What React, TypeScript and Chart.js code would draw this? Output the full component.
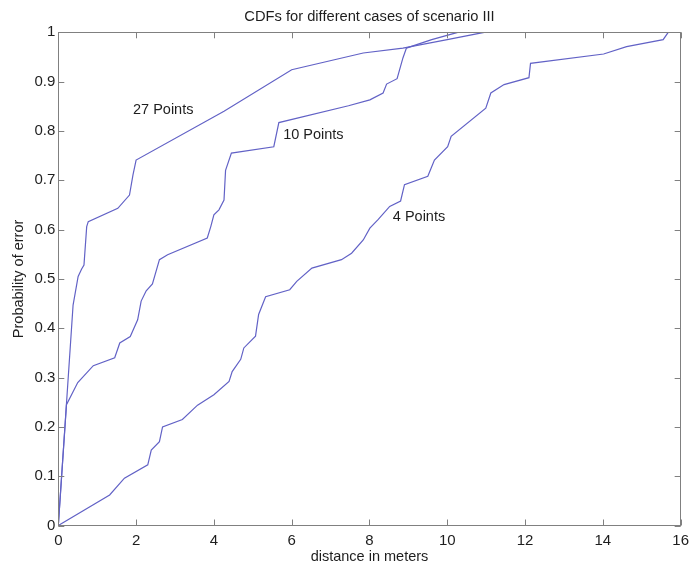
import React, { useEffect, useRef } from "react";
import { Chart, registerables } from "chart.js";

Chart.register(...registerables);

// ---- data ----
const TITLE = "CDFs for different cases of scenario III";
const X_LABEL = "distance in meters";
const Y_LABEL = "Probability of error";

const xTicks = [0, 2, 4, 6, 8, 10, 12, 14, 16];
const yTicks = [0, 0.1, 0.2, 0.3, 0.4, 0.5, 0.6, 0.7, 0.8, 0.9, 1];

const pts27X = [0, 0.38, 0.51, 0.6, 0.66, 0.73, 0.77, 1.53, 1.83, 1.92, 2.0, 4.26, 6.0, 7.84, 8.86, 10.0, 10.95];
const pts27Y = [0, 0.447, 0.505, 0.52, 0.528, 0.606, 0.616, 0.643, 0.67, 0.711, 0.741, 0.84, 0.924, 0.958, 0.968, 0.985, 1.0];

const pts10X = [0, 0.21, 0.5, 0.9, 1.45, 1.58, 1.85, 2.04, 2.13, 2.26, 2.42, 2.6, 2.81, 3.83, 3.92, 4.0, 4.13, 4.26, 4.3, 4.45, 5.54, 5.67, 7.46, 8.01, 8.35, 8.44, 8.71, 8.86, 8.95, 9.6, 10.27];
const pts10Y = [0, 0.245, 0.29, 0.324, 0.34, 0.37, 0.383, 0.417, 0.455, 0.476, 0.49, 0.539, 0.549, 0.583, 0.606, 0.63, 0.64, 0.66, 0.72, 0.755, 0.768, 0.817, 0.851, 0.863, 0.877, 0.895, 0.906, 0.948, 0.968, 0.985, 1.0];

const pts4X = [0, 1.32, 1.7, 2.3, 2.39, 2.6, 2.68, 3.19, 3.58, 4.0, 4.39, 4.47, 4.69, 4.77, 5.07, 5.15, 5.33, 5.95, 6.13, 6.52, 7.28, 7.54, 7.84, 8.01, 8.22, 8.52, 8.8, 8.9, 9.5, 9.67, 10.01, 10.1, 10.99, 11.12, 11.46, 12.1, 12.14, 14.02, 14.61, 15.55, 15.68];
const pts4Y = [0, 0.062, 0.096, 0.123, 0.153, 0.17, 0.2, 0.215, 0.244, 0.265, 0.292, 0.312, 0.337, 0.36, 0.384, 0.428, 0.464, 0.478, 0.495, 0.522, 0.539, 0.552, 0.579, 0.603, 0.62, 0.647, 0.658, 0.691, 0.708, 0.741, 0.768, 0.789, 0.846, 0.877, 0.894, 0.908, 0.937, 0.956, 0.971, 0.985, 1.0];

const labelTexts = ["27 Points", "10 Points", "4 Points"];
const labelX = [1.92, 5.78, 8.6];
const labelY = [0.843, 0.792, 0.626];

// ---- styles ----
const FONT = '"Liberation Sans", Arial, Helvetica, sans-serif';
const LINE_COLOR = "#6262c6";
const TEXT_COLOR = "#1e1e1e";
const AXIS_COLOR = "#808080";

const zip = (xs: number[], ys: number[]) => xs.map((x, i) => ({ x, y: ys[i] }));

const boxPlugin = {
  id: "matlabBox",
  afterDraw(chart: any) {
    const { ctx, chartArea } = chart;
    const xs = chart.scales.x;
    const ys = chart.scales.y;
    const { left, right, top, bottom } = chartArea;
    const tl = 6;
    ctx.save();
    ctx.strokeStyle = AXIS_COLOR;
    ctx.lineWidth = 1;
    ctx.beginPath();
    xTicks.forEach((v) => {
      const px = Math.round(xs.getPixelForValue(v)) + 0.5;
      ctx.moveTo(px, bottom);
      ctx.lineTo(px, bottom - tl);
      ctx.moveTo(px, top);
      ctx.lineTo(px, top + tl);
    });
    yTicks.forEach((v) => {
      const py = Math.round(ys.getPixelForValue(v)) + 0.5;
      ctx.moveTo(left, py);
      ctx.lineTo(left + tl, py);
      ctx.moveTo(right, py);
      ctx.lineTo(right - tl, py);
    });
    ctx.stroke();
    ctx.strokeRect(Math.round(left) + 0.5, Math.round(top) + 0.5, Math.round(right - left), Math.round(bottom - top));
    ctx.restore();
  },
  afterDatasetsDraw(chart: any) {
    const { ctx } = chart;
    const xs = chart.scales.x;
    const ys = chart.scales.y;
    ctx.save();
    ctx.fillStyle = TEXT_COLOR;
    ctx.font = `14.5px ${FONT}`;
    ctx.textAlign = "left";
    ctx.textBaseline = "middle";
    labelTexts.forEach((t, i) => {
      ctx.fillText(t, xs.getPixelForValue(labelX[i]), ys.getPixelForValue(labelY[i]));
    });
    ctx.restore();
  },
};

export default function App() {
  const ref = useRef<HTMLCanvasElement | null>(null);

  useEffect(() => {
    document.body.style.margin = "0";
    const canvas = ref.current;
    if (!canvas) return;
    const mk = (label: string, xs: number[], ys: number[]) => ({
      label,
      data: zip(xs, ys),
      showLine: true,
      borderColor: LINE_COLOR,
      backgroundColor: LINE_COLOR,
      borderWidth: 1.2,
      pointRadius: 0,
      tension: 0,
      fill: false,
    });
    const chart = new Chart(canvas, {
      type: "scatter",
      data: {
        datasets: [
          mk("27 Points", pts27X, pts27Y),
          mk("10 Points", pts10X, pts10Y),
          mk("4 Points", pts4X, pts4Y),
        ],
      },
      options: {
        animation: false,
        responsive: false,
        maintainAspectRatio: false,
        layout: { padding: { left: 0, right: 10.7, top: 0, bottom: 0 } },
        plugins: {
          legend: { display: false },
          tooltip: { enabled: false },
          title: { display: false },
        },
        scales: {
          x: {
            type: "linear",
            position: "bottom",
            min: 0,
            max: 16,
            afterBuildTicks: (s: any) => {
              s.ticks = xTicks.map((v) => ({ value: v }));
            },
            ticks: {
              color: TEXT_COLOR,
              font: { family: FONT, size: 15 },
              padding: 6,
              maxRotation: 0,
              autoSkip: false,
            },
            grid: { display: false, drawTicks: false },
            border: { display: false },
            title: {
              display: true,
              text: X_LABEL,
              color: TEXT_COLOR,
              font: { family: FONT, size: 14.5 },
              padding: { top: 0, bottom: 0.3 },
            },
            afterFit: (s: any) => {
              s.height = 40.5;
            },
          },
          xTop: {
            type: "linear",
            position: "top",
            min: 0,
            max: 16,
            ticks: { display: false },
            grid: { display: false, drawTicks: false },
            border: { display: false },
            title: {
              display: true,
              text: TITLE,
              color: TEXT_COLOR,
              font: { family: FONT, size: 14.7 },
              padding: { top: 8.2, bottom: 0 },
            },
            afterFit: (s: any) => {
              s.height = 32.3;
            },
          },
          y: {
            type: "linear",
            position: "left",
            min: 0,
            max: 1,
            afterBuildTicks: (s: any) => {
              s.ticks = yTicks.map((v) => ({ value: v }));
            },
            ticks: {
              color: TEXT_COLOR,
              font: { family: FONT, size: 15 },
              padding: 3,
              autoSkip: false,
              callback: (v: any) => String(Math.round(Number(v) * 10) / 10),
            },
            grid: { display: false, drawTicks: false },
            border: { display: false },
            title: {
              display: true,
              text: Y_LABEL,
              color: TEXT_COLOR,
              font: { family: FONT, size: 14.5 },
              padding: { top: 10.3, bottom: 0 },
            },
            afterFit: (s: any) => {
              s.width = 58.3;
            },
          },
        },
      } as any,
      plugins: [boxPlugin],
    });
    return () => chart.destroy();
  }, []);

  return (
    <div style={{ width: 695, height: 566, background: "#fff" }}>
      <canvas ref={ref} width={695} height={566} style={{ display: "block" }} />
    </div>
  );
}
